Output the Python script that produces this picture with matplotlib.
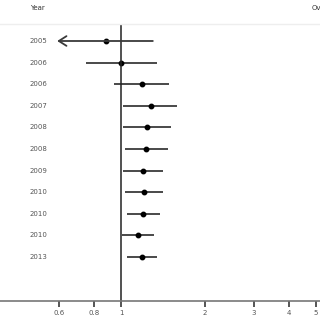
import matplotlib
matplotlib.use('Agg')
import matplotlib.pyplot as plt
import matplotlib.transforms as mtransforms
from matplotlib.ticker import FixedLocator, FixedFormatter, NullLocator

# study years and odds ratios with 95% CI
years = ["2005", "2006", "2006", "2007", "2008", "2008", "2009", "2010", "2010", "2010", "2013"]
point = [0.88, 1.00, 1.19, 1.28, 1.24, 1.23, 1.20, 1.21, 1.20, 1.15, 1.19]
lower = [0.59, 0.75, 0.94, 1.02, 1.02, 1.03, 1.02, 1.03, 1.05, 1.01, 1.05]
upper = [1.30, 1.35, 1.49, 1.59, 1.51, 1.47, 1.41, 1.41, 1.38, 1.31, 1.35]
clipped = [True, False, False, False, False, False, False, False, False, False, False]

xticks = [0.6, 0.8, 1, 2, 3, 4, 5]
xticklabels = ["0.6", "0.8", "1", "2", "3", "4", "5"]

fig = plt.figure(figsize=(3.2, 3.2), dpi=100)
ax = fig.add_axes([0, 19 / 320, 1, 277 / 320])
ax.set_xscale('log')
ax.set_xlim(0.368, 5.17)
ax.set_ylim(12.04, -0.787)

linecol = '#3a3a3a'
textcol = '#555555'

for i, (p, lo, hi, cl) in enumerate(zip(point, lower, upper, clipped)):
    if cl:
        ax.annotate('', xy=(lo, i), xytext=(hi, i),
                    arrowprops=dict(arrowstyle='->,head_length=0.55,head_width=0.35',
                                    color=linecol, lw=1.3, shrinkA=0, shrinkB=0))
    else:
        ax.plot([lo, hi], [i, i], color=linecol, lw=1.3, solid_capstyle='butt')
    ax.plot(p, i, 'o', color='black', ms=3.2)

# null line
ax.axvline(1, color='#222222', lw=1.1)

# year labels
trans = mtransforms.blended_transform_factory(ax.transAxes, ax.transData)
for i, y in enumerate(years):
    ax.text(30 / 320, i, y, transform=trans, ha='left', va='center',
            fontsize=5, color=textcol)

for s in ['left', 'right']:
    ax.spines[s].set_visible(False)
ax.spines['top'].set_color('#eeeeee')
ax.spines['top'].set_linewidth(1.0)
ax.spines['bottom'].set_color('#777777')
ax.spines['bottom'].set_linewidth(1.2)

ax.xaxis.set_major_locator(FixedLocator(xticks))
ax.xaxis.set_major_formatter(FixedFormatter(xticklabels))
ax.xaxis.set_minor_locator(NullLocator())
ax.tick_params(axis='x', direction='out', length=4, width=1.4, color='#555555',
               labelsize=5, labelcolor=textcol, pad=2.5)
ax.set_yticks([])

fig.text(30 / 320, 1 - 8 / 320, "Year", fontsize=5, color='#333333', ha='left', va='center')
fig.text(312 / 320, 1 - 8 / 320, "Overall", fontsize=5, color='#333333', ha='left', va='center')

fig.savefig('out.png', dpi=100)
